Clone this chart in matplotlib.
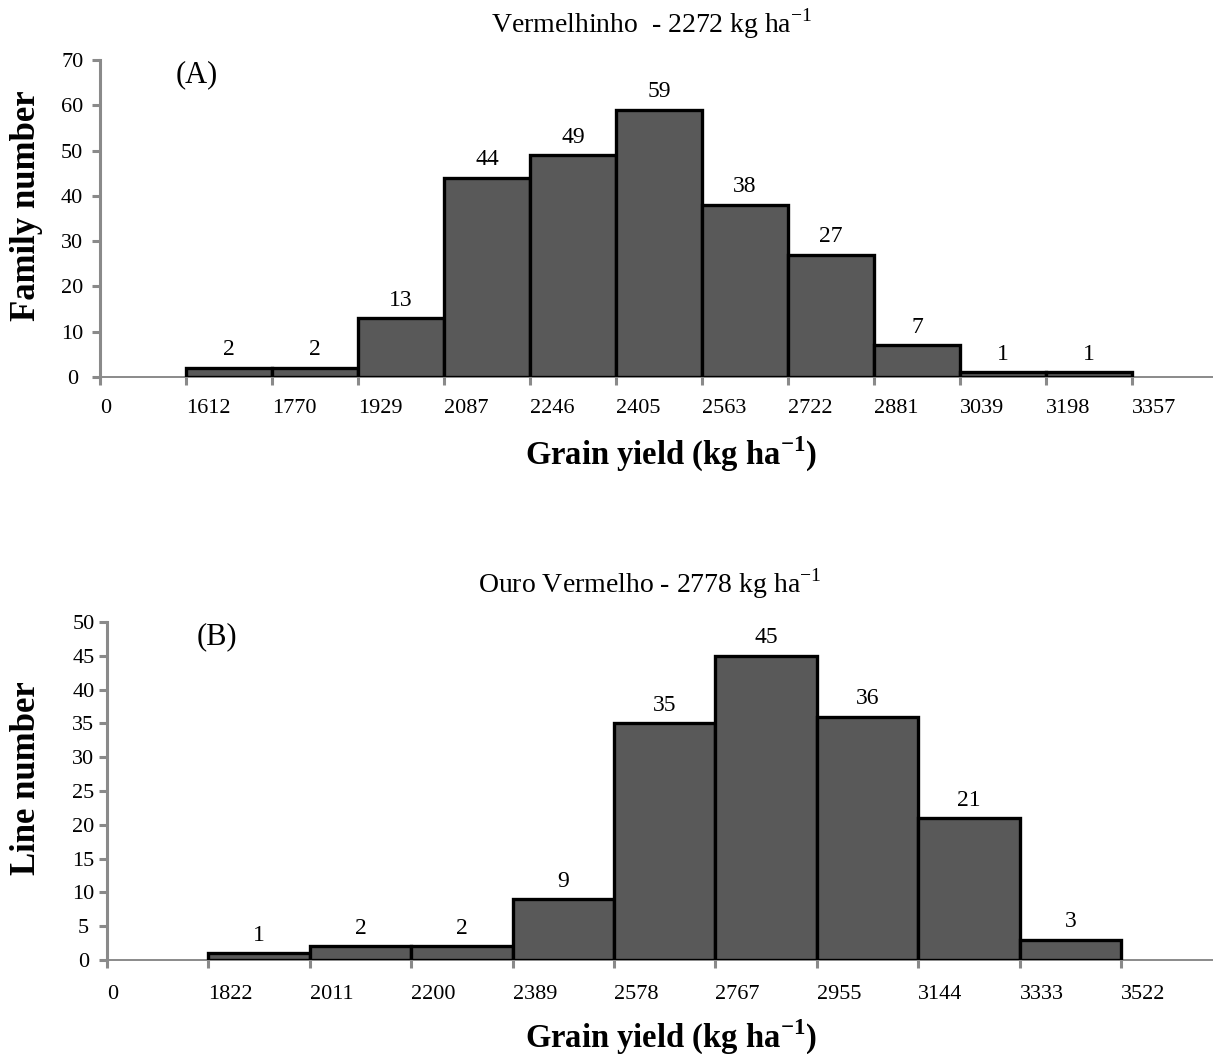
import numpy as np
import matplotlib.pyplot as plt

plt.rcParams['font.family'] = ['Liberation Serif', 'DejaVu Serif']
plt.rcParams['mathtext.fontset'] = 'custom'
plt.rcParams['mathtext.rm'] = 'Liberation Serif'
plt.rcParams['mathtext.bf'] = 'Liberation Serif:bold'

# panel A - Vermelhinho
ticks_a = ['0', '1612', '1770', '1929', '2087', '2246', '2405', '2563',
           '2722', '2881', '3039', '3198', '3357']
counts_a = [2, 2, 13, 44, 49, 59, 38, 27, 7, 1, 1]

# panel B - Ouro Vermelho
ticks_b = ['0', '1822', '2011', '2200', '2389', '2578', '2767', '2955',
           '3144', '3333', '3522']
counts_b = [1, 2, 2, 9, 35, 45, 36, 21, 3]

W, H = 1213, 1054
fig = plt.figure(figsize=(W / 100, H / 100), dpi=100)

bar_col = '#595959'
axis_col = '#8a8a8a'


def panel(rect, ticks, counts, xmax, ymax, ystep, letter, xpad, ypad):
    ax = fig.add_axes(rect)
    pos = np.arange(1, len(counts) + 1)
    ax.bar(pos, counts, width=1.0, align='edge', color=bar_col,
           edgecolor='black', linewidth=2.4, zorder=3)
    for p, c in zip(pos, counts):
        ax.annotate(str(c), (p + 0.5, c), xytext=(0, 9),
                    textcoords='offset points', ha='center', va='baseline',
                    fontsize=17)
    ax.set_xlim(0, xmax)
    ax.set_ylim(0, ymax)
    ax.set_xticks(np.arange(len(ticks)))
    ax.set_xticklabels(ticks, ha='left')
    ax.set_yticks(np.arange(0, ymax + 1, ystep))
    for lab in ax.get_yticklabels():
        lab.set_horizontalalignment('center')
    for s in ['top', 'right']:
        ax.spines[s].set_visible(False)
    ax.spines['left'].set_color(axis_col)
    ax.spines['left'].set_linewidth(2.2)
    ax.spines['bottom'].set_color(axis_col)
    ax.spines['bottom'].set_linewidth(1.4)
    ax.tick_params(axis='both', colors=axis_col, width=2.2, length=6,
                   labelcolor='black')
    ax.tick_params(axis='x', labelsize=16, pad=xpad)
    ax.tick_params(axis='y', labelsize=16, pad=ypad)
    ax.text(0.88, ymax * 0.955, letter, fontsize=22, ha='left', va='center')
    return ax


ax1 = panel([100 / W, 1 - 377 / H, 1113 / W, 317 / H], ticks_a, counts_a,
            1113 / 86.0, 70, 10, '(A)', 10, 14)
ax2 = panel([107 / W, 1 - 960 / H, 1106 / W, 338 / H], ticks_b, counts_b,
            1106 / 101.4, 50, 5, '(B)', 12, 11)

fig.text(652 / W, 1 - 33 / H, 'Vermelhinho  - 2272 kg ha$^{-1}$',
         ha='center', va='baseline', fontsize=20)
fig.text(650 / W, 1 - 593 / H, 'Ouro Vermelho - 2778 kg ha$^{-1}$',
         ha='center', va='baseline', fontsize=20)

xl = r'Grain yield (kg ha$^{\mathbf{-1}}$)'
fig.text(671 / W, 1 - 465 / H, xl, ha='center', va='baseline',
         fontsize=23.5, fontweight='bold')
fig.text(671 / W, 1 - 1048 / H, xl, ha='center', va='baseline',
         fontsize=23.5, fontweight='bold')

fig.text(27 / W, 1 - 206 / H, 'Family number', rotation=90, ha='center',
         va='center', fontsize=25, fontweight='bold')
fig.text(27 / W, 1 - 778 / H, 'Line number', rotation=90, ha='center',
         va='center', fontsize=25, fontweight='bold')

fig.savefig('out.png', dpi=100)
